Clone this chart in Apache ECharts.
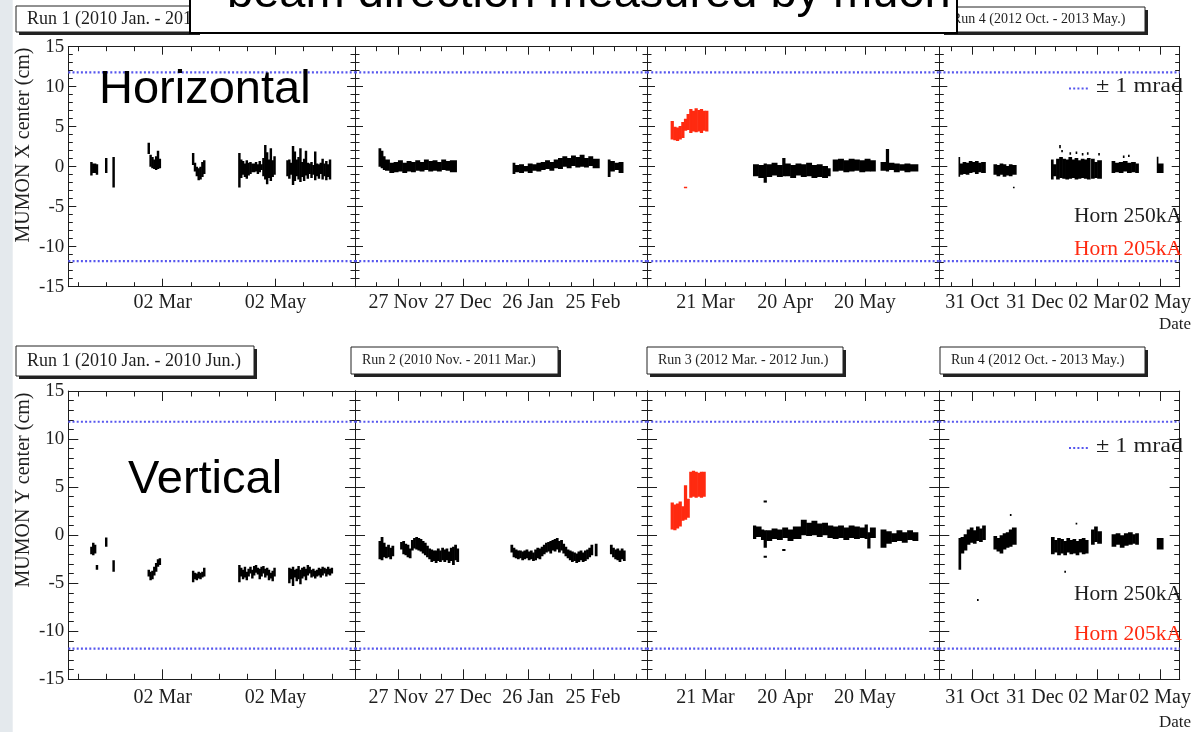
<!DOCTYPE html>
<html><head><meta charset="utf-8">
<script src="https://cdn.jsdelivr.net/npm/echarts@6/dist/echarts.min.js"></script>
<style>html,body{margin:0;padding:0;background:#fff}#c{width:1194px;height:732px}</style>
</head><body><div id="c"></div>
<script>
// ===================== DATA =====================
const MRAD = 11.8; // +-1 mrad line (cm)

const runTitles = ['Run 1 (2010 Jan. - 2010 Jun.)', 'Run 2 (2010 Nov. - 2011 Mar.)',
                   'Run 3 (2012 Mar. - 2012 Jun.)', 'Run 4 (2012 Oct. - 2013 May.)'];
const run1Range = ['2010-01-10', '2010-06-14'];
const run2Range = ['2010-11-07', '2011-03-22'];
const run3Range = ['2012-02-28', '2012-06-17'];
const run4Range = ['2012-09-29', '2013-05-21'];
const run1TickDates = ['2010-03-02', '2010-05-02'];
const run1TickLabels = ['02 Mar', '02 May'];
const run2TickDates = ['2010-11-27', '2010-12-27', '2011-01-26', '2011-02-25'];
const run2TickLabels = ['27 Nov', '27 Dec', '26 Jan', '25 Feb'];
const run3TickDates = ['2012-03-21', '2012-04-20', '2012-05-20'];
const run3TickLabels = ['21 Mar', '20 Apr', '20 May'];
const run4TickDates = ['2012-10-31', '2012-12-31', '2013-03-02', '2013-05-02'];
const run4TickLabels = ['31 Oct', '31 Dec', '02 Mar', '02 May'];

// each entry: [first day, last day, low (cm), high (cm)]
// ---- Horizontal (MUMON X) ----
const h1 = [
 ['2010-01-22','2010-01-22',-1.1,0.6],['2010-01-23','2010-01-24',-0.8,0.4],['2010-01-25','2010-01-25',-1.0,0.3],
 ['2010-01-30','2010-01-30',-0.8,1.1],['2010-02-03','2010-02-03',-2.6,1.2],
 ['2010-02-22','2010-02-22',1.6,3.0],['2010-02-23','2010-02-23',0.0,1.5],['2010-02-24','2010-02-24',-0.2,1.2],['2010-02-25','2010-02-25',-0.3,0.9],
 ['2010-02-26','2010-02-26',-0.4,1.3],['2010-02-27','2010-02-27',-0.3,2.0],['2010-02-28','2010-02-28',-0.2,1.0],
 ['2010-03-18','2010-03-18',0.2,1.7],['2010-03-19','2010-03-19',-0.6,0.5],['2010-03-20','2010-03-20',-1.2,0.0],['2010-03-21','2010-03-21',-1.7,-0.2],
 ['2010-03-22','2010-03-22',-1.6,0.0],['2010-03-23','2010-03-23',-1.3,0.6],['2010-03-24','2010-03-24',-0.9,0.8],
 ['2010-04-12','2010-04-12',-2.6,1.7],['2010-04-13','2010-04-13',-1.4,0.9],['2010-04-14','2010-04-14',-1.0,0.7],['2010-04-15','2010-04-15',-1.3,0.4],
 ['2010-04-16','2010-04-16',-1.5,0.8],['2010-04-17','2010-04-17',-1.1,0.5],['2010-04-18','2010-04-18',-0.9,0.6],['2010-04-19','2010-04-20',-0.7,0.4],
 ['2010-04-21','2010-04-21',-0.6,0.6],['2010-04-22','2010-04-22',-0.9,0.3],['2010-04-23','2010-04-23',-0.7,0.7],['2010-04-24','2010-04-24',-0.4,0.3],
 ['2010-04-25','2010-04-25',-1.2,1.1],['2010-04-26','2010-04-26',-1.6,2.7],['2010-04-27','2010-04-27',-2.2,1.8],['2010-04-28','2010-04-28',-1.4,0.9],
 ['2010-04-29','2010-04-29',-1.8,2.3],['2010-04-30','2010-04-30',-1.3,0.8],['2010-05-01','2010-05-01',-1.0,1.3],
 ['2010-05-08','2010-05-08',-1.2,0.8],['2010-05-09','2010-05-09',-1.5,0.9],['2010-05-10','2010-05-10',-1.0,0.5],['2010-05-11','2010-05-11',-2.3,2.6],
 ['2010-05-12','2010-05-12',-1.8,1.9],['2010-05-13','2010-05-13',-1.2,0.9],['2010-05-14','2010-05-14',-1.6,1.2],['2010-05-15','2010-05-15',-1.9,2.3],
 ['2010-05-16','2010-05-16',-1.3,0.6],['2010-05-17','2010-05-17',-1.8,1.0],['2010-05-18','2010-05-18',-1.1,2.0],['2010-05-19','2010-05-19',-1.5,0.5],
 ['2010-05-20','2010-05-20',-0.9,0.4],['2010-05-21','2010-05-21',-1.4,0.6],['2010-05-22','2010-05-22',-1.0,0.2],['2010-05-23','2010-05-23',-1.7,1.9],
 ['2010-05-24','2010-05-24',-1.2,0.4],['2010-05-25','2010-05-25',-1.5,0.3],['2010-05-26','2010-05-26',-0.9,0.5],['2010-05-27','2010-05-27',-1.6,1.0],
 ['2010-05-28','2010-05-28',-1.2,0.4],['2010-05-29','2010-05-29',-1.7,0.7],['2010-05-30','2010-05-30',-1.3,0.3],['2010-05-31','2010-05-31',-1.6,0.9]
];
const h2 = [
 ['2010-11-18','2010-11-18',0.0,2.3],['2010-11-19','2010-11-19',-0.2,2.0],['2010-11-20','2010-11-20',-0.4,1.3],['2010-11-21','2010-11-22',-0.5,0.9],
 ['2010-11-23','2010-11-24',-0.8,0.5],['2010-11-25','2010-11-26',-0.7,0.6],['2010-11-27','2010-11-28',-0.6,0.8],['2010-11-29','2010-11-30',-0.8,0.5],
 ['2010-12-01','2010-12-02',-0.6,0.7],['2010-12-03','2010-12-04',-0.7,0.6],['2010-12-05','2010-12-06',-0.5,0.8],['2010-12-07','2010-12-08',-0.6,0.6],
 ['2010-12-09','2010-12-10',-0.4,0.9],['2010-12-11','2010-12-12',-0.6,0.7],['2010-12-13','2010-12-14',-0.5,0.8],['2010-12-15','2010-12-16',-0.6,0.6],
 ['2010-12-17','2010-12-18',-0.4,0.9],['2010-12-19','2010-12-20',-0.5,0.7],['2010-12-21','2010-12-23',-0.7,0.8],
 ['2011-01-19','2011-01-19',-0.9,0.5],['2011-01-20','2011-01-21',-0.7,0.2],['2011-01-22','2011-01-23',-0.8,0.3],['2011-01-24','2011-01-25',-0.6,0.1],
 ['2011-01-26','2011-01-27',-0.8,0.4],['2011-01-28','2011-01-29',-0.5,0.3],['2011-01-30','2011-01-31',-0.6,0.5],['2011-02-01','2011-02-02',-0.4,0.6],
 ['2011-02-03','2011-02-04',-0.3,0.8],['2011-02-05','2011-02-06',-0.5,0.6],['2011-02-07','2011-02-08',-0.2,0.9],['2011-02-09','2011-02-10',-0.3,1.1],
 ['2011-02-11','2011-02-12',0.0,1.3],['2011-02-13','2011-02-14',-0.2,1.1],['2011-02-15','2011-02-16',0.1,1.4],['2011-02-17','2011-02-18',-0.1,1.2],
 ['2011-02-19','2011-02-20',0.0,1.5],['2011-02-21','2011-02-22',-0.1,1.1],['2011-02-23','2011-02-24',0.1,1.3],['2011-02-25','2011-02-27',-0.2,1.0],
 ['2011-03-04','2011-03-04',-1.3,0.9],['2011-03-05','2011-03-06',-0.6,0.7],['2011-03-07','2011-03-08',-0.4,0.5],['2011-03-09','2011-03-10',-0.8,0.6]
];
const h3red = [
 ['2012-03-08','2012-03-08',3.4,5.7],['2012-03-09','2012-03-09',3.3,5.0],['2012-03-10','2012-03-10',3.2,4.9],['2012-03-11','2012-03-11',3.4,5.1],
 ['2012-03-12','2012-03-12',3.6,5.6],['2012-03-13','2012-03-13',4.5,6.0],['2012-03-13','2012-03-13',-2.7,-2.5],['2012-03-14','2012-03-14',4.6,6.6],
 ['2012-03-15','2012-03-15',4.2,7.2],['2012-03-16','2012-03-16',4.4,7.0],['2012-03-17','2012-03-17',4.3,7.3],['2012-03-18','2012-03-18',4.4,7.1],
 ['2012-03-19','2012-03-19',4.2,7.2],['2012-03-20','2012-03-20',4.5,7.0],['2012-03-21','2012-03-21',4.4,7.0]
];
const h3 = [
 ['2012-04-08','2012-04-09',-1.2,0.3],['2012-04-10','2012-04-11',-1.4,0.2],['2012-04-12','2012-04-12',-2.0,0.4],['2012-04-13','2012-04-14',-1.3,0.3],
 ['2012-04-15','2012-04-16',-1.1,0.5],['2012-04-17','2012-04-18',-1.3,0.2],['2012-04-19','2012-04-19',-1.2,1.1],['2012-04-20','2012-04-21',-1.2,0.4],
 ['2012-04-22','2012-04-23',-1.4,0.2],['2012-04-24','2012-04-25',-1.1,0.4],['2012-04-26','2012-04-27',-1.3,0.3],['2012-04-28','2012-04-29',-1.2,0.5],
 ['2012-04-30','2012-05-01',-1.4,0.2],['2012-05-02','2012-05-03',-1.3,0.3],['2012-05-04','2012-05-05',-1.4,0.1],['2012-05-06','2012-05-06',-1.2,-0.2],
 ['2012-05-08','2012-05-09',-0.6,0.9],['2012-05-10','2012-05-11',-0.5,1.0],['2012-05-12','2012-05-13',-0.7,0.8],['2012-05-14','2012-05-15',-0.6,1.0],
 ['2012-05-16','2012-05-17',-0.5,0.9],['2012-05-18','2012-05-19',-0.7,0.8],['2012-05-20','2012-05-21',-0.6,1.0],['2012-05-22','2012-05-23',-0.6,0.8],
 ['2012-05-26','2012-05-27',-0.5,0.6],['2012-05-28','2012-05-28',-0.6,2.2],['2012-05-29','2012-05-30',-0.4,0.5],['2012-05-31','2012-06-01',-0.7,0.4],
 ['2012-06-02','2012-06-03',-0.5,0.3],['2012-06-04','2012-06-05',-0.7,0.4],['2012-06-06','2012-06-08',-0.6,0.3]
];
const h4 = [
 ['2012-10-18','2012-10-18',-1.25,1.2],['2012-10-19','2012-10-21',-1.0,0.4],['2012-10-22','2012-10-24',-0.9,0.6],['2012-10-25','2012-10-27',-1.0,0.5],
 ['2012-10-28','2012-10-30',-0.8,0.7],['2012-10-31','2012-11-02',-0.7,0.6],['2012-11-03','2012-11-05',-0.9,0.7],['2012-11-06','2012-11-08',-0.7,0.5],
 ['2012-11-09','2012-11-12',-0.8,0.6],
 ['2012-11-21','2012-11-23',-1.0,0.3],['2012-11-24','2012-11-26',-1.2,0.2],['2012-11-27','2012-11-29',-1.0,0.4],['2012-11-30','2012-12-02',-1.25,0.3],
 ['2012-12-03','2012-12-05',-1.1,0.1],['2012-12-06','2012-12-08',-1.2,0.3],['2012-12-09','2012-12-12',-1.0,0.2],['2012-12-10','2012-12-10',-2.7,-2.5],
 ['2013-01-16','2013-01-17',-1.6,0.9],['2013-01-18','2013-01-20',-1.2,0.3],['2013-01-21','2013-01-23',-1.6,1.0],['2013-01-24','2013-01-26',-1.4,1.2],
 ['2013-01-27','2013-01-29',-1.5,1.0],['2013-01-30','2013-02-01',-1.6,0.9],['2013-02-02','2013-02-04',-1.5,1.2],['2013-02-05','2013-02-07',-1.4,0.9],
 ['2013-02-08','2013-02-10',-1.6,1.1],['2013-02-11','2013-02-13',-1.5,0.8],['2013-02-14','2013-02-16',-1.4,1.0],['2013-02-17','2013-02-19',-1.5,0.9],
 ['2013-02-20','2013-02-22',-1.6,1.1],['2013-01-24','2013-01-24',2.3,2.7],['2013-01-26','2013-01-26',1.8,2.1],['2013-02-03','2013-02-03',1.5,1.8],
 ['2013-02-09','2013-02-09',1.6,1.9],['2013-02-15','2013-02-15',1.4,1.7],['2013-02-20','2013-02-20',1.5,1.8],
 ['2013-02-24','2013-02-26',-1.5,1.0],['2013-02-27','2013-03-01',-1.4,0.6],['2013-03-02','2013-03-05',-1.5,0.8],['2013-03-03','2013-03-03',1.4,1.7],
 ['2013-03-16','2013-03-18',-0.8,0.7],['2013-03-19','2013-03-22',-0.7,0.5],['2013-03-23','2013-03-26',-0.8,0.6],['2013-03-27','2013-03-30',-0.6,0.7],
 ['2013-03-31','2013-04-03',-0.8,0.5],['2013-04-04','2013-04-07',-0.7,0.6],['2013-04-08','2013-04-10',-0.8,0.4],
 ['2013-03-27','2013-03-27',1.1,1.4],['2013-04-01','2013-04-01',1.2,1.5],
 ['2013-04-29','2013-04-29',-0.8,1.25],['2013-04-30','2013-05-04',-0.8,0.4]
];
// ---- Vertical (MUMON Y) ----
const v1 = [
 ['2010-01-22','2010-01-22',-2.0,-1.2],['2010-01-23','2010-01-23',-2.1,-0.8],['2010-01-24','2010-01-24',-1.9,-1.0],['2010-01-25','2010-01-25',-3.6,-3.1],
 ['2010-01-30','2010-01-30',-1.2,-0.25],['2010-02-03','2010-02-03',-3.8,-2.6],
 ['2010-02-22','2010-02-22',-4.3,-3.6],['2010-02-23','2010-02-23',-4.7,-3.8],['2010-02-24','2010-02-24',-4.6,-3.7],['2010-02-25','2010-02-25',-4.2,-3.3],
 ['2010-02-26','2010-02-26',-3.8,-2.9],['2010-02-27','2010-02-27',-3.3,-2.5],['2010-02-28','2010-02-28',-3.1,-2.4],
 ['2010-03-18','2010-03-18',-4.9,-3.7],['2010-03-19','2010-03-19',-4.6,-3.9],['2010-03-20','2010-03-20',-4.7,-4.0],['2010-03-21','2010-03-21',-4.5,-3.8],
 ['2010-03-22','2010-03-22',-4.6,-3.9],['2010-03-23','2010-03-23',-4.4,-3.8],['2010-03-24','2010-03-24',-4.3,-3.4],
 ['2010-04-12','2010-04-12',-4.9,-3.1],['2010-04-13','2010-04-13',-4.3,-3.4],['2010-04-14','2010-04-14',-4.6,-3.6],['2010-04-15','2010-04-15',-4.4,-3.3],
 ['2010-04-16','2010-04-16',-4.7,-3.8],['2010-04-17','2010-04-17',-4.3,-3.5],['2010-04-18','2010-04-18',-4.0,-3.3],['2010-04-19','2010-04-19',-4.5,-3.6],
 ['2010-04-20','2010-04-20',-4.2,-3.2],['2010-04-21','2010-04-21',-3.9,-3.1],['2010-04-22','2010-04-22',-4.1,-3.4],['2010-04-23','2010-04-23',-4.6,-3.5],
 ['2010-04-24','2010-04-24',-4.3,-3.3],['2010-04-25','2010-04-25',-4.0,-3.2],['2010-04-26','2010-04-26',-4.4,-3.5],['2010-04-27','2010-04-27',-4.2,-3.4],
 ['2010-04-28','2010-04-28',-4.7,-3.6],['2010-04-29','2010-04-29',-4.5,-3.9],['2010-04-30','2010-04-30',-4.8,-3.7],['2010-05-01','2010-05-01',-4.3,-3.4],
 ['2010-05-09','2010-05-09',-5.0,-3.4],['2010-05-10','2010-05-10',-4.6,-3.5],['2010-05-11','2010-05-11',-5.3,-3.3],['2010-05-12','2010-05-12',-4.4,-3.6],
 ['2010-05-13','2010-05-13',-4.8,-3.5],['2010-05-14','2010-05-14',-4.6,-3.2],['2010-05-15','2010-05-15',-5.1,-3.6],['2010-05-16','2010-05-16',-4.5,-3.4],
 ['2010-05-17','2010-05-17',-4.3,-3.3],['2010-05-18','2010-05-18',-4.7,-3.5],['2010-05-19','2010-05-19',-4.2,-3.1],['2010-05-20','2010-05-20',-4.0,-3.3],
 ['2010-05-21','2010-05-21',-4.4,-3.6],['2010-05-22','2010-05-22',-4.3,-3.5],['2010-05-23','2010-05-23',-4.5,-3.7],['2010-05-24','2010-05-24',-4.3,-3.6],
 ['2010-05-25','2010-05-25',-4.2,-3.4],['2010-05-26','2010-05-26',-4.4,-3.5],['2010-05-27','2010-05-27',-4.2,-3.3],['2010-05-28','2010-05-28',-4.0,-3.4],
 ['2010-05-29','2010-05-29',-4.3,-3.5],['2010-05-30','2010-05-30',-4.1,-3.3],['2010-05-31','2010-05-31',-4.2,-3.5],['2010-06-01','2010-06-01',-4.0,-3.4]
];
const v2 = [
 ['2010-11-18','2010-11-18',-2.5,-0.6],['2010-11-19','2010-11-19',-2.6,-0.2],['2010-11-20','2010-11-20',-2.3,-0.8],['2010-11-21','2010-11-21',-2.4,-1.2],
 ['2010-11-22','2010-11-22',-2.3,-1.0],['2010-11-23','2010-11-23',-2.5,-1.3],['2010-11-24','2010-11-24',-2.2,-1.1],
 ['2010-11-28','2010-11-28',-1.5,-0.7],['2010-11-29','2010-11-29',-2.0,-0.6],['2010-11-30','2010-11-30',-2.1,-0.9],['2010-12-01','2010-12-01',-2.3,-1.0],
 ['2010-12-02','2010-12-02',-2.4,-1.4],['2010-12-03','2010-12-03',-1.6,-0.5],['2010-12-04','2010-12-04',-1.4,-0.3],['2010-12-05','2010-12-05',-1.5,-0.2],
 ['2010-12-06','2010-12-06',-1.6,-0.3],['2010-12-07','2010-12-07',-1.7,-0.4],['2010-12-08','2010-12-08',-1.9,-0.6],['2010-12-09','2010-12-09',-2.1,-0.8],
 ['2010-12-10','2010-12-10',-2.3,-1.1],['2010-12-11','2010-12-11',-2.5,-1.4],['2010-12-12','2010-12-12',-2.8,-1.5],['2010-12-13','2010-12-13',-2.7,-1.6],
 ['2010-12-14','2010-12-14',-2.9,-1.6],['2010-12-15','2010-12-15',-2.7,-1.4],['2010-12-16','2010-12-16',-2.8,-1.6],['2010-12-17','2010-12-17',-2.6,-1.3],
 ['2010-12-18','2010-12-18',-2.8,-1.5],['2010-12-19','2010-12-19',-2.6,-1.4],['2010-12-20','2010-12-20',-2.9,-1.7],['2010-12-21','2010-12-21',-2.7,-1.3],
 ['2010-12-22','2010-12-22',-3.1,-1.2],['2010-12-23','2010-12-23',-2.6,-1.0],['2010-12-24','2010-12-24',-2.8,-1.4],
 ['2011-01-18','2011-01-18',-1.8,-1.0],['2011-01-19','2011-01-19',-2.3,-1.3],['2011-01-20','2011-01-20',-2.4,-1.5],['2011-01-21','2011-01-21',-2.5,-1.6],
 ['2011-01-22','2011-01-22',-2.4,-1.6],['2011-01-23','2011-01-23',-2.6,-1.7],['2011-01-24','2011-01-24',-2.5,-1.6],['2011-01-25','2011-01-25',-2.4,-1.5],
 ['2011-01-26','2011-01-26',-2.6,-1.7],['2011-01-27','2011-01-27',-2.5,-1.6],['2011-01-28','2011-01-28',-2.7,-1.8],['2011-01-29','2011-01-29',-2.6,-1.5],
 ['2011-01-30','2011-01-30',-2.4,-1.3],['2011-01-31','2011-01-31',-2.5,-1.4],['2011-02-01','2011-02-01',-2.2,-1.2],['2011-02-02','2011-02-02',-2.0,-1.0],
 ['2011-02-03','2011-02-03',-1.8,-0.8],['2011-02-04','2011-02-04',-1.7,-0.7],['2011-02-05','2011-02-05',-1.9,-0.6],['2011-02-06','2011-02-06',-1.6,-0.5],
 ['2011-02-07','2011-02-07',-1.7,-0.4],['2011-02-08','2011-02-08',-1.5,-0.3],['2011-02-09','2011-02-09',-1.8,-0.6],['2011-02-10','2011-02-10',-1.6,-0.5],
 ['2011-02-11','2011-02-11',-1.9,-0.9],['2011-02-12','2011-02-12',-2.2,-1.2],['2011-02-13','2011-02-13',-2.4,-1.5],['2011-02-14','2011-02-14',-2.6,-1.6],
 ['2011-02-15','2011-02-15',-2.8,-1.7],['2011-02-16','2011-02-16',-2.7,-1.8],['2011-02-17','2011-02-17',-2.9,-1.9],['2011-02-18','2011-02-18',-2.8,-1.7],
 ['2011-02-19','2011-02-19',-2.6,-1.6],['2011-02-20','2011-02-20',-2.8,-1.8],['2011-02-21','2011-02-21',-2.7,-1.6],['2011-02-22','2011-02-22',-2.5,-1.5],
 ['2011-02-23','2011-02-23',-2.3,-1.3],['2011-02-24','2011-02-24',-2.1,-1.0],['2011-02-26','2011-02-26',-2.2,-0.9],
 ['2011-03-05','2011-03-05',-2.0,-1.0],['2011-03-06','2011-03-06',-2.3,-1.3],['2011-03-07','2011-03-07',-2.5,-1.5],['2011-03-08','2011-03-08',-2.6,-1.4],
 ['2011-03-09','2011-03-09',-2.8,-1.6],['2011-03-10','2011-03-10',-2.5,-1.4],['2011-03-11','2011-03-11',-2.7,-1.6]
];
const v3red = [
 ['2012-03-08','2012-03-08',0.6,3.4],['2012-03-09','2012-03-09',0.5,3.2],['2012-03-10','2012-03-10',0.7,3.3],['2012-03-11','2012-03-11',0.9,3.5],
 ['2012-03-12','2012-03-12',1.5,3.0],['2012-03-13','2012-03-13',1.6,5.2],['2012-03-14','2012-03-14',1.8,3.8],['2012-03-15','2012-03-15',3.9,6.6],
 ['2012-03-16','2012-03-16',4.0,6.7],['2012-03-17','2012-03-17',3.9,6.6],['2012-03-18','2012-03-18',4.0,6.5],['2012-03-19','2012-03-19',3.9,6.6],
 ['2012-03-20','2012-03-20',4.0,6.6]
];
const v3 = [
 ['2012-04-08','2012-04-08',-0.4,1.0],['2012-04-09','2012-04-10',-0.2,0.9],['2012-04-11','2012-04-11',-0.5,0.6],['2012-04-12','2012-04-12',-1.3,0.5],
 ['2012-04-12','2012-04-12',3.4,3.6],['2012-04-12','2012-04-12',-2.35,-2.15],['2012-04-19','2012-04-19',-1.65,-1.45],
 ['2012-04-13','2012-04-14',-0.6,0.5],['2012-04-15','2012-04-16',-0.4,0.7],['2012-04-17','2012-04-18',-0.5,0.6],['2012-04-19','2012-04-20',-0.3,0.8],
 ['2012-04-21','2012-04-22',-0.6,0.6],['2012-04-23','2012-04-25',-0.4,0.9],['2012-04-26','2012-04-27',0.0,1.6],['2012-04-28','2012-04-29',-0.1,1.3],
 ['2012-04-30','2012-05-01',0.0,1.5],['2012-05-02','2012-05-03',-0.2,1.2],['2012-05-04','2012-05-05',0.0,1.3],['2012-05-06','2012-05-07',-0.3,1.0],
 ['2012-05-08','2012-05-09',-0.4,0.9],['2012-05-10','2012-05-11',-0.3,1.0],['2012-05-12','2012-05-13',-0.5,0.8],['2012-05-14','2012-05-15',-0.3,1.0],
 ['2012-05-16','2012-05-17',-0.4,0.9],['2012-05-18','2012-05-19',-0.3,0.8],['2012-05-20','2012-05-20',-0.4,1.1],['2012-05-21','2012-05-21',-1.4,0.3],
 ['2012-05-22','2012-05-23',-0.3,0.8],['2012-05-26','2012-05-27',-1.3,0.6],['2012-05-28','2012-05-29',-0.9,0.4],['2012-05-30','2012-05-31',-0.7,0.2],
 ['2012-06-01','2012-06-02',-0.6,0.5],['2012-06-03','2012-06-04',-0.8,0.3],['2012-06-05','2012-06-06',-0.5,0.5],['2012-06-07','2012-06-08',-0.6,0.3]
];
const v4 = [
 ['2012-10-18','2012-10-19',-3.6,-0.3],['2012-10-20','2012-10-22',-1.9,-0.2],['2012-10-23','2012-10-25',-1.6,0.1],['2012-10-26','2012-10-28',-1.0,0.6],
 ['2012-10-29','2012-10-31',-0.8,0.8],['2012-11-01','2012-11-03',-0.9,0.5],['2012-11-04','2012-11-06',-0.6,0.9],['2012-11-07','2012-11-09',-0.7,0.7],
 ['2012-11-10','2012-11-12',-0.5,1.0],['2012-11-05','2012-11-05',-6.85,-6.65],
 ['2012-11-21','2012-11-23',-1.5,-0.1],['2012-11-24','2012-11-26',-1.7,-0.3],['2012-11-27','2012-11-29',-1.9,0.0],['2012-11-30','2012-12-02',-1.5,0.2],
 ['2012-12-03','2012-12-05',-1.3,0.3],['2012-12-06','2012-12-08',-1.2,0.6],['2012-12-09','2012-12-12',-1.0,0.8],['2012-12-07','2012-12-07',2.0,2.2],
 ['2013-01-16','2013-01-18',-2.0,-0.2],['2013-01-19','2013-01-21',-1.8,-0.5],['2013-01-22','2013-01-24',-2.1,-0.3],['2013-01-25','2013-01-27',-1.9,-0.4],
 ['2013-01-28','2013-01-30',-2.1,-0.6],['2013-01-31','2013-02-02',-1.8,-0.3],['2013-02-03','2013-02-05',-2.0,-0.5],['2013-02-06','2013-02-08',-1.9,-0.4],
 ['2013-02-09','2013-02-11',-2.1,-0.6],['2013-02-12','2013-02-14',-1.8,-0.4],['2013-02-15','2013-02-17',-2.0,-0.3],['2013-02-18','2013-02-20',-1.9,-0.5],
 ['2013-01-29','2013-01-29',-3.9,-3.7],['2013-02-09','2013-02-09',1.1,1.3],
 ['2013-02-24','2013-02-26',-1.0,0.6],['2013-02-27','2013-03-01',-0.7,0.9],['2013-03-02','2013-03-05',-0.9,0.4],
 ['2013-03-16','2013-03-19',-1.2,0.1],['2013-03-20','2013-03-23',-1.0,0.2],['2013-03-24','2013-03-27',-1.3,0.0],['2013-03-28','2013-03-31',-1.1,0.2],
 ['2013-04-01','2013-04-04',-1.0,0.3],['2013-04-05','2013-04-07',-0.9,0.1],['2013-04-08','2013-04-10',-1.0,0.2],
 ['2013-04-29','2013-05-04',-1.5,-0.3]
];

// ===================== LAYOUT / STYLE =====================
const SERIF = '"Liberation Serif", "Times New Roman", serif';
const SANS = '"Liberation Sans", Arial, Helvetica, sans-serif';
const INK = '#1e1e1e';
const RED = '#ff2a10';
const BLUE = '#5656ee';
const DAY = 86400000;
const panels = [
  {range: run1Range, ticks: run1TickDates, labels: run1TickLabels, sub: 4},
  {range: run2Range, ticks: run2TickDates, labels: run2TickLabels, sub: 3},
  {range: run3Range, ticks: run3TickDates, labels: run3TickLabels, sub: 4},
  {range: run4Range, ticks: run4TickDates, labels: run4TickLabels, sub: 3}
];
const cols = [[68.3, 355], [355, 647], [647, 939.3], [939.3, 1188]];
const rowsGeo = [
  {top: 46.7, bottom: 286.7, maj: 8, min: 4.5, xm: 6, black: [h1, h2, h3, h4], red: [null, null, h3red, null]},
  {top: 391, bottom: 679.3, maj: 10, min: 5.5, xm: 8.5, black: [v1, v2, v3, v4], red: [null, null, v3red, null]}
];
const LS = {color: INK, width: 1};

function toRows(arr) { return arr.map(d => [Date.parse(d[0]), Date.parse(d[1]), d[2], d[3]]); }
function renderSpan(params, api) {
  const s = api.value(0), e = api.value(1), lo = api.value(2), hi = api.value(3);
  const pt = api.coord([s, hi]), pb = api.coord([s, lo]);
  const x0 = pt[0];
  const x1 = api.coord([e + DAY, hi])[0];
  return {type: 'rect', shape: {x: x0 - 0.3, y: pt[1], width: Math.max(1, x1 - x0) + 0.6, height: Math.max(1.2, pb[1] - pt[1])},
          style: {fill: api.visual('color')}};
}

const grids = [], xAxes = [], yAxes = [], series = [];
let g = 0;
rowsGeo.forEach((R) => {
  cols.forEach((C, c) => {
    grids.push({left: C[0], top: R.top, width: C[1] - C[0], height: R.bottom - R.top, containLabel: false});
    const P = panels[c];
    const min = Date.parse(P.range[0]), max = Date.parse(P.range[1]);
    const majors = P.ticks.map(Date.parse);
    const step = (majors[1] - majors[0]) / P.sub;
    const minors = [];
    for (let k = -40; k <= 40; k++) {
      if (k % P.sub === 0) continue;
      const t = majors[0] + k * step;
      if (t > min && t < max) minors.push(t);
    }
    const base = {gridIndex: g, type: 'value', min, max, splitLine: {show: false}, axisPointer: {show: false}};
    const xi = xAxes.length;
    xAxes.push(Object.assign({}, base, {position: 'bottom',
      axisLine: {show: true, onZero: false, lineStyle: LS},
      axisTick: {show: true, inside: true, length: R.maj, customValues: majors, lineStyle: LS},
      axisLabel: {show: true, customValues: majors, margin: R.xm, color: INK, fontFamily: SERIF, fontSize: 20, hideOverlap: false,
        showMinLabel: true, showMaxLabel: true,
        formatter: (v) => { let bi = 0; majors.forEach((m, i) => { if (Math.abs(m - v) < Math.abs(majors[bi] - v)) bi = i; }); return P.labels[bi]; }}}));
    xAxes.push(Object.assign({}, base, {position: 'bottom', axisLine: {show: false, onZero: false},
      axisTick: {show: true, inside: true, length: R.min, customValues: minors, lineStyle: LS}, axisLabel: {show: false}}));
    xAxes.push(Object.assign({}, base, {position: 'top', axisLine: {show: true, onZero: false, lineStyle: LS},
      axisTick: {show: true, inside: true, length: R.maj, customValues: majors, lineStyle: LS}, axisLabel: {show: false}}));
    xAxes.push(Object.assign({}, base, {position: 'top', axisLine: {show: false, onZero: false},
      axisTick: {show: true, inside: true, length: R.min, customValues: minors, lineStyle: LS}, axisLabel: {show: false}}));
    const yi = yAxes.length;
    const ybase = {gridIndex: g, type: 'value', min: -15, max: 15, interval: 5, splitLine: {show: false},
      axisLine: {show: true, onZero: false, lineStyle: LS},
      axisTick: {show: true, inside: true, length: R.maj, lineStyle: LS},
      minorTick: {show: true, splitNumber: 5, length: R.min, lineStyle: LS}};
    yAxes.push(Object.assign({}, ybase, {position: 'left',
      axisLabel: {show: c === 0, margin: 4, color: INK, fontFamily: SERIF, fontSize: 19}}));
    yAxes.push(Object.assign({}, ybase, {position: 'right', axisLabel: {show: false}}));

    [MRAD, -MRAD].forEach(m => series.push({type: 'line', xAxisIndex: xi, yAxisIndex: yi, data: [[min, m], [max, m]],
      symbol: 'none', silent: true, animation: false, lineStyle: {color: BLUE, width: 2.2, type: [2, 2.2]}, z: 1}));
    series.push({type: 'custom', xAxisIndex: xi, yAxisIndex: yi, data: toRows(R.black[c]), renderItem: renderSpan,
      encode: {x: [0, 1], y: [2, 3]}, itemStyle: {color: '#000'}, clip: true, silent: true, animation: false, z: 3});
    if (R.red[c]) series.push({type: 'custom', xAxisIndex: xi, yAxisIndex: yi, data: toRows(R.red[c]), renderItem: renderSpan,
      encode: {x: [0, 1], y: [2, 3]}, itemStyle: {color: RED}, clip: true, silent: true, animation: false, z: 3});
    g++;
  });
});

function runBox(x, y, w, h, text, size) {
  return [
    {type: 'rect', z: 50, shape: {x: x + 3, y: y + 3, width: w, height: h}, style: {fill: '#222'}},
    {type: 'rect', z: 51, shape: {x: x, y: y, width: w, height: h}, style: {fill: '#fff', stroke: '#222', lineWidth: 1}},
    {type: 'text', z: 52, x: x + 11, y: y + h / 2, style: {text: text, font: size + 'px ' + SERIF, fill: INK, align: 'left', verticalAlign: 'middle'}}
  ];
}
function legendGroup(yLeg, y250, y205) {
  return [
    {type: 'line', z: 40, shape: {x1: 1069, y1: yLeg + 2, x2: 1090, y2: yLeg + 2}, style: {stroke: BLUE, lineWidth: 2.2, lineDash: [2, 2.2]}},
    {type: 'text', z: 40, x: 1183, y: yLeg, scaleX: 1.15, style: {text: '± 1 mrad', font: '21px ' + SERIF, fill: INK, align: 'right', verticalAlign: 'middle'}},
    {type: 'text', z: 40, x: 1182, y: y250, style: {text: 'Horn 250kA', font: '21.5px ' + SERIF, fill: INK, align: 'right', verticalAlign: 'middle'}},
    {type: 'text', z: 40, x: 1182, y: y205, style: {text: 'Horn 205kA', font: '21.5px ' + SERIF, fill: RED, align: 'right', verticalAlign: 'middle'}}
  ];
}

const graphics = [
  {type: 'rect', z: 0, shape: {x: 0, y: 0, width: 12.7, height: 732}, style: {fill: '#e4e9ed'}},
  ...runBox(16, 6, 181, 26, runTitles[0], 18),
  ...runBox(941, 7, 204, 25, runTitles[3], 14),
  {type: 'rect', z: 60, shape: {x: 190, y: -12, width: 767, height: 45}, style: {fill: '#fff', stroke: '#000', lineWidth: 2}},
  {type: 'text', z: 61, x: 227, y: -5.5, style: {text: 'beam direction measured by muon', font: '47px ' + SANS, fill: '#000', align: 'left', verticalAlign: 'middle'}},
  ...runBox(16, 346, 238, 30, runTitles[0], 18),
  ...runBox(351, 347, 207, 27, runTitles[1], 14),
  ...runBox(647, 347, 196, 27, runTitles[2], 14),
  ...runBox(940, 347, 205, 27, runTitles[3], 14),
  {type: 'text', z: 40, x: 99, y: 90.5, style: {text: 'Horizontal', font: '47px ' + SANS, fill: '#000', align: 'left', verticalAlign: 'middle'}},
  {type: 'text', z: 40, x: 128, y: 480.5, style: {text: 'Vertical', font: '47px ' + SANS, fill: '#000', align: 'left', verticalAlign: 'middle'}},
  {type: 'text', z: 40, x: 24, y: 145, rotation: Math.PI / 2, style: {text: 'MUMON X center (cm)', font: '20px ' + SERIF, fill: INK, align: 'center', verticalAlign: 'middle'}},
  {type: 'text', z: 40, x: 24, y: 490, rotation: Math.PI / 2, style: {text: 'MUMON Y center (cm)', font: '20px ' + SERIF, fill: INK, align: 'center', verticalAlign: 'middle'}},
  {type: 'text', z: 40, x: 1191, y: 325, style: {text: 'Date', font: '17px ' + SERIF, fill: INK, align: 'right', verticalAlign: 'middle'}},
  {type: 'text', z: 40, x: 1191, y: 723, style: {text: 'Date', font: '17px ' + SERIF, fill: INK, align: 'right', verticalAlign: 'middle'}},
  ...legendGroup(86.5, 216, 249.5),
  ...legendGroup(446, 594.5, 634.5)
];

const chart = echarts.init(document.getElementById('c'), null, {renderer: 'canvas'});
chart.setOption({
  animation: false,
  backgroundColor: '#fff',
  grid: grids, xAxis: xAxes, yAxis: yAxes, series: series,
  graphic: {elements: graphics}
});
</script></body></html>
